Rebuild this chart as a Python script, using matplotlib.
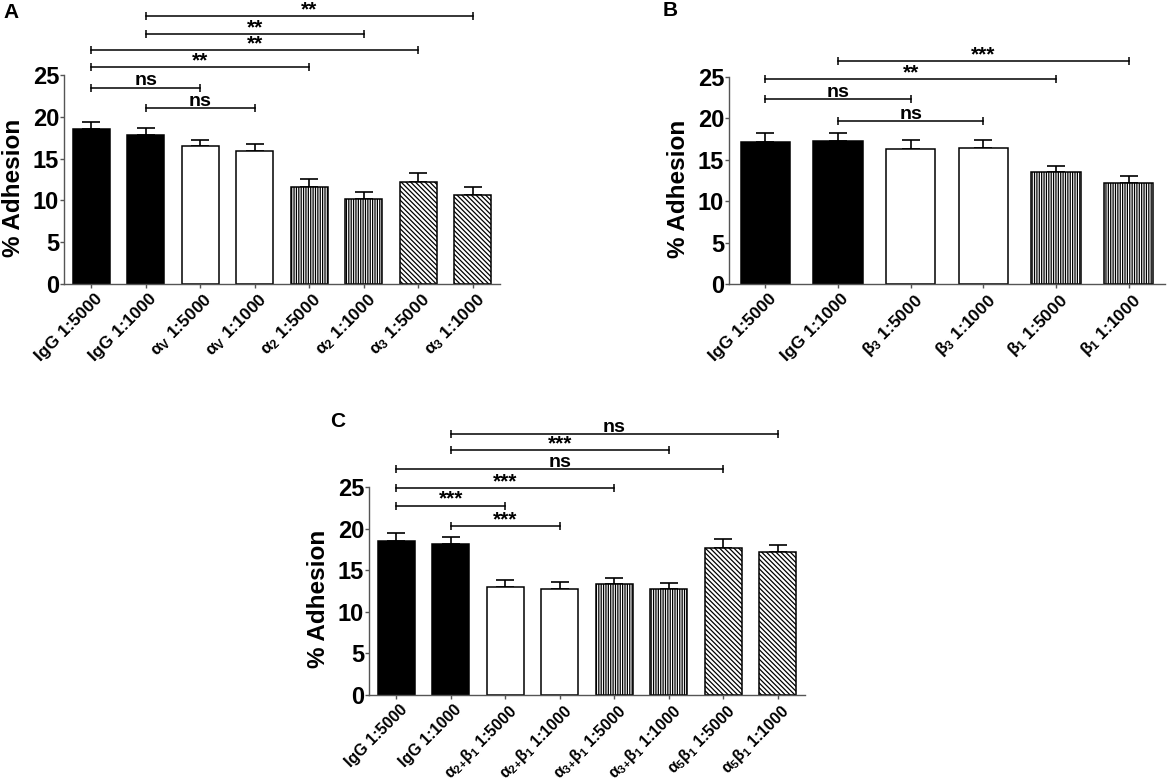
import matplotlib
matplotlib.use('Agg')
import matplotlib.pyplot as plt
import matplotlib.transforms as mtrans
import numpy as np

plt.rcParams['font.family'] = ['Liberation Sans', 'DejaVu Sans']
plt.rcParams['font.weight'] = 'bold'
plt.rcParams['mathtext.default'] = 'regular'
plt.rcParams['hatch.linewidth'] = 0.9
plt.rcParams['hatch.color'] = 'black'

# ---------------- data ----------------
a_labels = ['IgG 1:5000', 'IgG 1:1000', r'α$_V$ 1:5000', r'α$_V$ 1:1000',
            r'α$_2$ 1:5000', r'α$_2$ 1:1000', r'α$_3$ 1:5000', r'α$_3$ 1:1000']
a_means = [18.5, 17.8, 16.55, 15.9, 11.65, 10.2, 12.2, 10.7]
a_err = [0.9, 0.9, 0.7, 0.85, 0.85, 0.8, 1.1, 0.85]
a_fill = ['solid', 'solid', 'open', 'open', 'vert', 'vert', 'diag', 'diag']
a_brackets = [(0, 2, 23.5, 'ns'), (1, 3, 21.0, 'ns'), (0, 4, 25.9, '**'),
              (0, 6, 28.0, '**'), (1, 5, 29.9, '**'), (1, 7, 32.1, '**')]

b_labels = ['IgG 1:5000', 'IgG 1:1000', r'β$_3$ 1:5000', r'β$_3$ 1:1000',
            r'β$_1$ 1:5000', r'β$_1$ 1:1000']
b_means = [17.15, 17.25, 16.3, 16.45, 13.5, 12.2]
b_err = [1.1, 0.9, 1.05, 0.9, 0.75, 0.85]
b_fill = ['solid', 'solid', 'open', 'open', 'vert', 'vert']
b_brackets = [(0, 2, 22.35, 'ns'), (1, 3, 19.7, 'ns'), (0, 4, 24.7, '**'),
              (1, 5, 26.9, '***')]

c_labels = ['IgG 1:5000', 'IgG 1:1000', r'α$_{2{+}}$β$_1$ 1:5000', r'α$_{2{+}}$β$_1$ 1:1000',
            r'α$_{3{+}}$β$_1$ 1:5000', r'α$_{3{+}}$β$_1$ 1:1000', r'α$_5$β$_1$ 1:5000',
            r'α$_5$β$_1$ 1:1000']
c_means = [18.5, 18.15, 13.0, 12.7, 13.35, 12.7, 17.7, 17.25]
c_err = [1.0, 0.9, 0.8, 0.85, 0.75, 0.75, 1.1, 0.75]
c_fill = ['solid', 'solid', 'open', 'open', 'vert', 'vert', 'diag', 'diag']
c_brackets = [(0, 2, 22.8, '***'), (1, 3, 20.35, '***'), (0, 4, 24.95, '***'),
              (0, 6, 27.15, 'ns'), (1, 5, 29.5, '***'), (1, 7, 31.45, 'ns')]

yticks = [0, 5, 10, 15, 20, 25]

fig = plt.figure(figsize=(11.7, 7.81), dpi=100)

SPINE = '#555555'


def draw(ax, labels, means, errs, fills, brackets, xfs):
    x = np.arange(len(means))
    for xi, m, f in zip(x, means, fills):
        if f == 'solid':
            fc, h = 'black', None
        elif f == 'open':
            fc, h = 'white', None
        elif f == 'vert':
            fc, h = 'white', '|||||||'
        else:
            fc, h = 'white', '\\\\\\\\\\\\\\'
        ax.bar(xi, m, width=0.68, color=fc, edgecolor='black', linewidth=1.1,
               hatch=h, zorder=2)
    ax.errorbar(x, means, yerr=[np.zeros(len(x)), errs], fmt='none', ecolor='black',
                elinewidth=1.2, capsize=6.5, capthick=1.2, zorder=1)
    ax.set_xlim(-0.5, len(means) - 0.5)
    ax.set_ylim(0, 25)
    ax.set_yticks(yticks)
    for s in ['top', 'right']:
        ax.spines[s].set_visible(False)
    for s in ['left', 'bottom']:
        ax.spines[s].set_color(SPINE)
        ax.spines[s].set_linewidth(1.0)
    ax.tick_params(axis='y', length=3, width=1, color=SPINE, labelsize=17, pad=0.5)
    ax.tick_params(axis='x', length=3, width=1, color=SPINE, pad=2)
    ax.set_xticks(x)
    ax.set_xticklabels(labels, rotation=45, ha='right', va='top',
                       rotation_mode='anchor', fontsize=xfs, fontweight='bold')
    off = mtrans.ScaledTranslation(3 / 100, 0, fig.dpi_scale_trans)
    for lab in ax.get_xticklabels():
        lab.set_transform(lab.get_transform() + off)
    for lab in ax.get_yticklabels():
        lab.set_fontweight('bold')
    ax.text(-0.115, 0.46, '% Adhesion', transform=ax.transAxes, rotation=90,
            ha='center', va='center', fontsize=17.5, fontweight='bold')
    for i, j, y, t in brackets:
        ax.plot([i, j], [y, y], color='black', lw=1.1, marker='|', ms=6, mew=1.1,
                clip_on=False, zorder=3)
        if t == 'ns':
            ax.annotate(t, ((i + j) / 2, y), xytext=(0, 1.5), textcoords='offset points',
                        ha='center', va='baseline', fontsize=14, fontweight='bold',
                        annotation_clip=False)
        else:
            ax.annotate(t, ((i + j) / 2, y), xytext=(0, 0.5), textcoords='offset points',
                        ha='center', va='baseline', fontsize=15, fontweight='bold',
                        annotation_clip=False)


axA = fig.add_axes([0.0547, 0.6364, 0.3727, 0.2676])
draw(axA, a_labels, a_means, a_err, a_fill, a_brackets, 12.5)
axB = fig.add_axes([0.6231, 0.6364, 0.3727, 0.2654])
draw(axB, b_labels, b_means, b_err, b_fill, b_brackets, 12.5)
axC = fig.add_axes([0.3154, 0.1105, 0.3726, 0.2656])
draw(axC, c_labels, c_means, c_err, c_fill, c_brackets, 11.5)

fig.text(3 / 1170, 1 - 2.5 / 781, 'A', ha='left', va='top', fontsize=15, fontweight='bold')
fig.text(663 / 1170, 1 - 1.0 / 781, 'B', ha='left', va='top', fontsize=15, fontweight='bold')
fig.text(330 / 1170, 1 - 412.5 / 781, 'C', ha='left', va='top', fontsize=15, fontweight='bold')

fig.savefig('out.png', dpi=100)
